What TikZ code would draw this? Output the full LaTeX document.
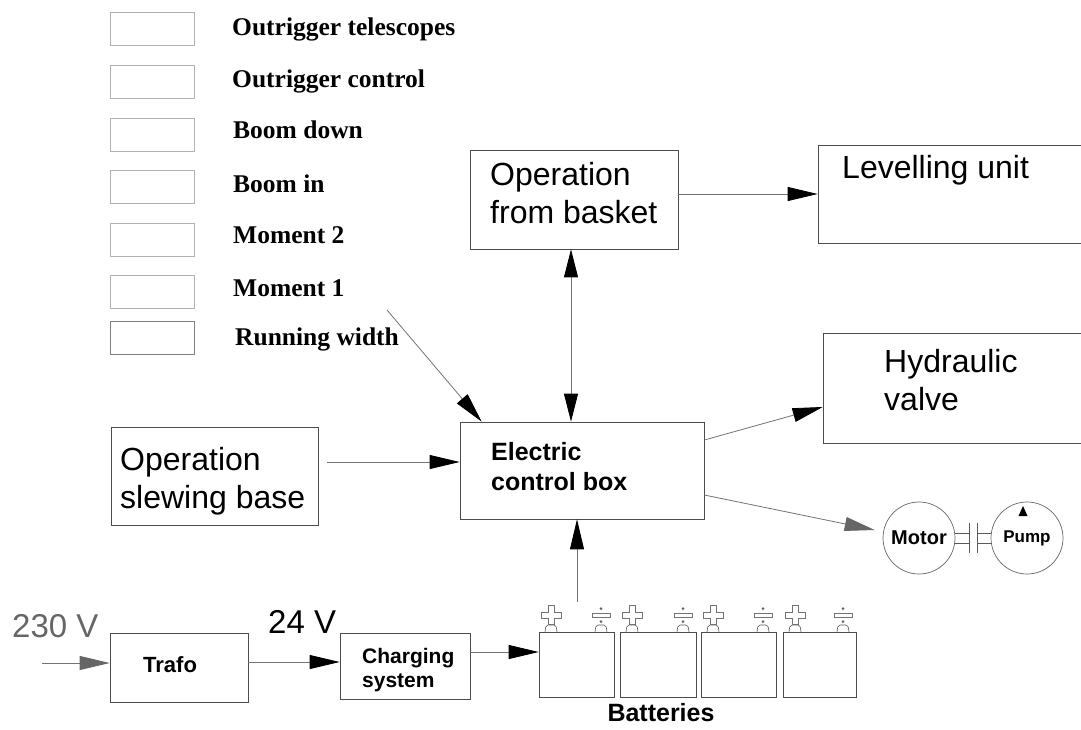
\documentclass[tikz,border=0pt]{standalone}
\usepackage{fontspec}
\setmainfont{Liberation Sans}
\newfontfamily\legendfont{Liberation Serif}
\usetikzlibrary{arrows.meta}
\tikzset{
  box/.style={draw=black!70, line width=0.7pt, inner sep=0pt},
  legbox/.style={draw=black!30, line width=0.6pt, inner sep=0pt, minimum width=84pt, minimum height=33pt},
  legtxt/.style={anchor=base west, inner sep=0pt, font=\legendfont\bfseries\fontsize{25.5}{28}\selectfont},
  bigtxt/.style={anchor=base west, inner sep=0pt, font=\fontsize{32}{38}\selectfont},
  boldtxt/.style={anchor=base west, inner sep=0pt, font=\bfseries\fontsize{#1}{#1}\selectfont},
  conn/.style={draw=black!55, line width=0.8pt, -{Triangle[length=30pt,width=14pt,color=black]}},
  gconn/.style={draw=black!55, line width=0.8pt, -{Triangle[length=30pt,width=14pt,color=black!60]}},
  dconn/.style={draw=black!55, line width=0.8pt, {Triangle[length=28pt,width=14pt,color=black]}-{Triangle[length=28pt,width=14pt,color=black]}},
  circ/.style={circle, draw=black!60, line width=0.7pt, minimum size=72pt, inner sep=0pt},
  thin/.style={draw=black!65, line width=0.6pt}
}
\begin{document}
\begin{tikzpicture}[x=1pt,y=-1pt]
\clip (0,0) rectangle (1081,729);
\fill[white] (0,0) rectangle (1081,729);

% legend
\node[legbox] (l1) at (152,28.5) {};
\node[legbox] (l2) at (152,81.5) {};
\node[legbox] (l3) at (152,134.5) {};
\node[legbox] (l4) at (152,186.5) {};
\node[legbox] (l5) at (152,239.5) {};
\node[legbox] (l6) at (152,292) {};
\node[legbox, draw=black!50] (l7) at (152,337.5) {};
\node[legtxt] (t1) at (232,35) {Outrigger telescopes};
\node[legtxt] (t2) at (232,87) {Outrigger control};
\node[legtxt] (t3) at (233,138) {Boom down};
\node[legtxt] (t4) at (233,192) {Boom in};
\node[legtxt] (t5) at (233,243) {Moment 2};
\node[legtxt] (t6) at (233,296) {Moment 1};
\node[legtxt] (t7) at (235,345) {Running width};

% main boxes
\node[box, minimum width=208pt, minimum height=99pt] (basket) at (574,199.5) {};
\node[bigtxt] (basket1) at (490,185) {Operation};
\node[bigtxt] (basket2) at (490,223) {from basket};

\node[box, minimum width=282pt, minimum height=98pt] (level) at (959,194) {};
\node[bigtxt] (level1) at (842,178) {Levelling unit};

\node[box, minimum width=277pt, minimum height=110pt] (hyd) at (961.5,388) {};
\node[bigtxt] (hyd1) at (884,372) {Hydraulic};
\node[bigtxt] (hyd2) at (884,410) {valve};

\node[box, minimum width=207pt, minimum height=98pt] (slew) at (214.5,476) {};
\node[bigtxt] (slew1) at (120,470) {Operation};
\node[bigtxt] (slew2) at (120,508) {slewing base};

\node[box, minimum width=244pt, minimum height=97pt] (ecb) at (582,470.5) {};
\node[boldtxt=25] (ecb1) at (491,460) {Electric};
\node[boldtxt=25] (ecb2) at (491,490) {control box};

\node[box, minimum width=138pt, minimum height=69pt] (trafo) at (179,667.5) {};
\node[boldtxt=22] (trafo1) at (143,672) {Trafo};

\node[box, minimum width=130pt, minimum height=66pt] (charge) at (405,666) {};
\node[boldtxt=21] (charge1) at (362,663) {Charging};
\node[boldtxt=21] (charge2) at (362,687) {system};

\node[anchor=base west, inner sep=0pt, text=black!60, font=\fontsize{33}{33}\selectfont] (v230) at (12,637) {230 V};
\node[anchor=base west, inner sep=0pt, font=\fontsize{33}{33}\selectfont] (v24) at (268,633) {24 V};

% batteries
\node[box, minimum width=75pt, minimum height=65pt] (bat1) at (576.5,664.5) {};
\node[box, minimum width=76pt, minimum height=65pt] (bat2) at (658,664.5) {};
\node[box, minimum width=75pt, minimum height=65pt] (bat3) at (738.5,664.5) {};
\node[box, minimum width=73pt, minimum height=65pt] (bat4) at (819.5,664.5) {};
\foreach \p in {551,632,713,795} {
  \draw[thin, rounded corners=2pt] ({\p-6},632) -- ({\p-5},625) -- ({\p+5},625) -- ({\p+6},632);
  \draw[draw=black!55, line width=0.7pt] ({\p-3},605) -- ({\p+3},605) -- ({\p+3},612) -- ({\p+10},612) -- ({\p+10},618) -- ({\p+3},618) -- ({\p+3},624) -- ({\p-3},624) -- ({\p-3},618) -- ({\p-10},618) -- ({\p-10},612) -- ({\p-3},612) -- cycle;
}
\foreach \m in {601,683,763,843} {
  \draw[thin, rounded corners=2pt] ({\m-6},632) -- ({\m-5},625) -- ({\m+5},625) -- ({\m+6},632);
  \draw[draw=black!55, line width=0.7pt] ({\m-9},613.5) rectangle ({\m+9},617);
  \fill[black!60] (\m,608.5) circle (1.5);
  \fill[black!60] (\m,621.5) circle (1.5);
}
\node[anchor=base, inner sep=0pt, font=\bfseries\fontsize{25}{25}\selectfont] (battxt) at (661,721) {Batteries};

% motor and pump
\node[circ, font=\bfseries\fontsize{20}{20}\selectfont] (motor) at (919,538) {Motor};
\node[circ, font=\bfseries\fontsize{17}{17}\selectfont] (pump) at (1027,538) {\raisebox{-3pt}{Pump}};
\draw[thin] (motor.east) ++(0,-5) -- (969,533) (motor.east) ++(0,5) -- (969,543)
  (969,523) -- (969,553) (977,523) -- (977,553)
  (977,533) -- (pump.west |- 0,533) (977,543) -- (pump.west |- 0,543);
\fill[black] (1018.5,516) -- (1027.5,516) -- (1023,506) -- cycle;

% connectors
\coordinate (rwstart) at (387,310);
\coordinate (in230) at (42,663);
\draw[conn] (basket.east |- level.west) -- (level.west);
\draw[dconn] (basket.south -| 571,0) -- (ecb.north -| 571,0);
\draw[conn] (rwstart) -- ([xshift=22pt]ecb.north west);
\draw[conn] ([xshift=9pt]slew.east |- 0,462) -- (ecb.west |- 0,462);
\draw[conn] (ecb.east |- 0,440) -- (hyd.west |- 0,407);
\draw[gconn] (ecb.east |- 0,495) -- ([xshift=-8pt]motor.west |- 0,530);
\draw[conn] (577,602) -- (ecb.south -| 577,0);
\draw[gconn] (in230) -- (trafo.west |- in230);
\draw[conn] (trafo.east |- 0,662) -- (charge.west |- 0,662);
\draw[conn] (charge.east |- 0,652) -- (bat1.west |- 0,652);
\end{tikzpicture}
\end{document}
